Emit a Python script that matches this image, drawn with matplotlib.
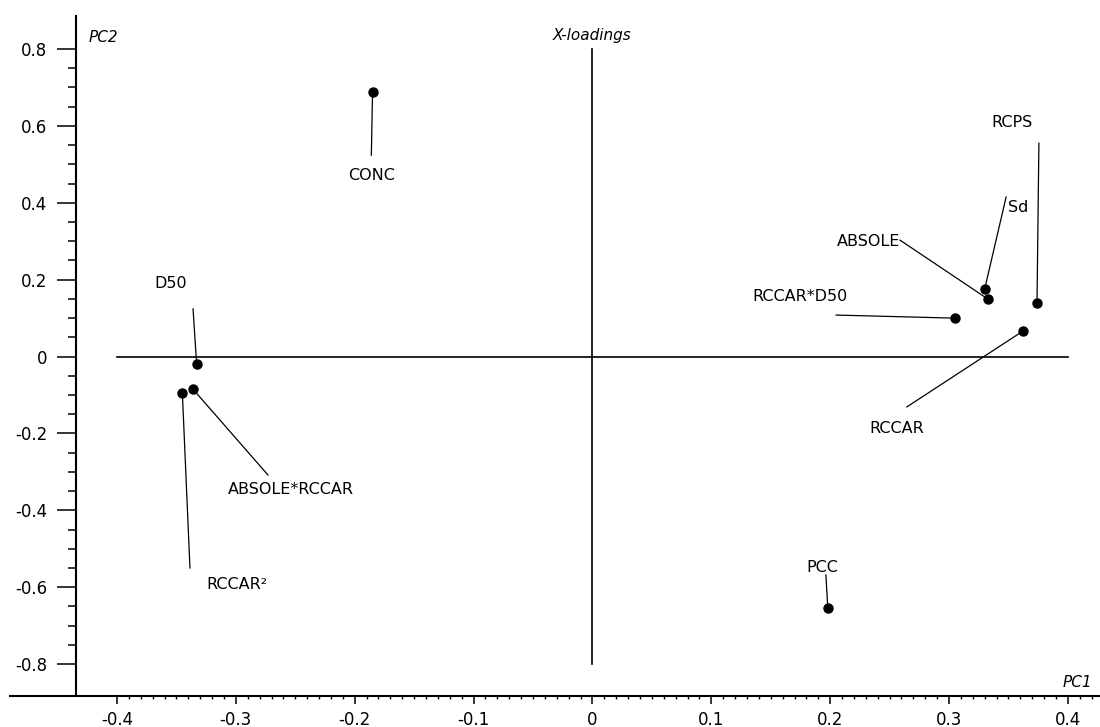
import numpy as np
import matplotlib
matplotlib.use("Agg")
import matplotlib.pyplot as plt
from matplotlib.ticker import FixedLocator, FuncFormatter

# X-loadings (PC1, PC2)
names = ["CONC", "D50", "RCCAR²", "ABSOLE*RCCAR", "PCC",
         "RCCAR*D50", "ABSOLE", "Sd", "RCPS", "RCCAR"]
pc1 = [-0.185, -0.333, -0.345, -0.336, 0.198,
       0.305, 0.3325, 0.330, 0.374, 0.362]
pc2 = [0.688, -0.019, -0.095, -0.085, -0.654,
       0.100, 0.150, 0.176, 0.139, 0.066]

# leader line ends and label anchors (data coords)
line_end = [(-0.186, 0.524), (-0.336, 0.124), (-0.3386, -0.550), (-0.273, -0.308),
            (0.1964, -0.568), (0.205, 0.108), (0.2587, 0.303), (0.348, 0.415),
            (0.3756, 0.555), (0.2645, -0.131)]
label_pos = [(-0.186, 0.472), (-0.355, 0.191), (-0.299, -0.594), (-0.2535, -0.347),
             (0.193, -0.548), (0.1745, 0.157), (0.2587, 0.300), (0.3495, 0.389),
             (0.353, 0.610), (0.256, -0.186)]
label_ha = ["center", "center", "center", "center", "center",
            "center", "right", "left", "center", "center"]

x_ticks = [-0.4, -0.3, -0.2, -0.1, 0, 0.1, 0.2, 0.3, 0.4]
y_ticks = [-0.8, -0.6, -0.4, -0.2, 0, 0.2, 0.4, 0.6, 0.8]

fig = plt.figure(figsize=(11, 7.27), dpi=100)
ax = fig.add_axes([10 / 1100, 31 / 727, 1090 / 1100, 680 / 727])
ax.set_xlim(-0.49, 0.427)
ax.set_ylim(-0.883, 0.886)

for s in ["top", "right"]:
    ax.spines[s].set_visible(False)
ax.spines["left"].set_position(("data", -0.4345))
ax.spines["left"].set_linewidth(1.5)
ax.spines["bottom"].set_linewidth(1.5)

ax.xaxis.set_major_locator(FixedLocator(x_ticks))
ax.xaxis.set_minor_locator(FixedLocator(np.arange(-0.4, 0.4201, 0.01)))
ax.yaxis.set_major_locator(FixedLocator(y_ticks))
ax.yaxis.set_minor_locator(FixedLocator(np.arange(-0.8, 0.8001, 0.05)))
fmt = FuncFormatter(lambda v, p: "0" if abs(v) < 1e-9 else f"{v:g}")
ax.xaxis.set_major_formatter(fmt)
ax.yaxis.set_major_formatter(fmt)

ax.tick_params(axis="x", which="major", length=5.5, width=1.1, pad=5, labelsize=12)
ax.tick_params(axis="x", which="minor", length=2.5, width=1.0)
ax.tick_params(axis="y", which="major", length=13.5, width=1.1, pad=7, labelsize=12)
ax.tick_params(axis="y", which="minor", length=6, width=1.1)

# centre cross
ax.plot([0, 0], [-0.8, 0.8], color="black", lw=1.2)
ax.plot([-0.4, 0.4], [0, 0], color="black", lw=1.2)

for i, name in enumerate(names):
    ax.plot([pc1[i], line_end[i][0]], [pc2[i], line_end[i][1]], color="black", lw=0.9)
    ax.text(label_pos[i][0], label_pos[i][1], name, ha=label_ha[i], va="center", fontsize=11.5)
ax.plot(pc1, pc2, "o", color="black", markersize=6.5, zorder=3)

ax.text(-0.424, 0.831, "PC2", style="italic", fontsize=11, ha="left", va="center")
ax.text(0, 0.836, "X-loadings", style="italic", fontsize=11, ha="center", va="center")
ax.text(0.4076, -0.849, "PC1", style="italic", fontsize=11, ha="center", va="center")

fig.savefig("out.png", dpi=100)
